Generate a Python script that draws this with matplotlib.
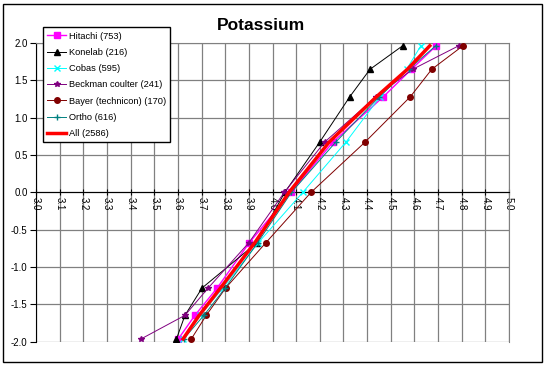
import matplotlib
matplotlib.use("Agg")
import matplotlib.pyplot as plt
import numpy as np

plt.rcParams["font.family"] = ["Liberation Sans", "DejaVu Sans"]

# normal scores (y) at the 2.5 .. 97.5 percentiles
z_scores = [-1.96, -1.645, -1.28, -0.674, 0.0, 0.674, 1.28, 1.645, 1.96]

hitachi = [3.602, 3.672, 3.766, 3.902, 4.078, 4.256, 4.469, 4.587, 4.692]
konelab = [3.594, 3.630, 3.702, 3.934, 4.052, 4.200, 4.327, 4.412, 4.550]
cobas = [3.622, 3.695, 3.790, 3.940, 4.128, 4.311, 4.455, 4.567, 4.627]
beckman = [3.445, 3.630, 3.728, 3.900, 4.050, 4.221, 4.438, 4.592, 4.787]
bayer = [3.657, 3.720, 3.802, 3.972, 4.163, 4.392, 4.583, 4.673, 4.805]
ortho = [3.625, 3.710, 3.800, 3.937, 4.080, 4.268, 4.452, 4.575, 4.690]
all_labs = [3.622, 3.690, 3.780, 3.925, 4.070, 4.240, 4.440, 4.570, 4.665]

x_ticks = np.arange(3.0, 5.01, 0.1)
y_ticks = np.arange(-2.0, 2.01, 0.5)

series = [
    ("Hitachi (753)", hitachi, "#FF00FF", "s", 1.0, 4),
    ("Konelab (216)", konelab, "#000000", "^", 0.7, 4.5),
    ("Cobas (595)", cobas, "#00FFFF", "x", 0.7, 4),
    ("Beckman coulter (241)", beckman, "#800080", "*", 0.7, 4),
    ("Bayer (technicon) (170)", bayer, "#800000", "o", 0.7, 4),
    ("Ortho (616)", ortho, "#008080", "+", 0.7, 4.5),
]

fig = plt.figure(figsize=(5.45, 3.66), dpi=100)
ax = fig.add_axes([0.066, 0.066, 0.868, 0.817])

# x axis drawn through y = 0 (set before tick labels, it resets them)
ax.spines["bottom"].set_position(("data", 0.0))

for label, xs, color, marker, lw, ms in series:
    ax.plot(xs, z_scores, color=color, marker=marker, lw=lw, ms=ms,
            mew=1.0, label=label, zorder=3)
ax.plot(all_labs, z_scores, color="#FF0000", lw=2.5, label="All (2586)", zorder=4)

ax.set_xlim(3.0, 5.0)
ax.set_ylim(-2.0, 2.0)
ax.set_xticks(x_ticks)
ax.set_yticks(y_ticks)
ax.set_xticklabels([f"{v:.1f}" for v in x_ticks], rotation=-90, fontsize=7)
ax.set_yticklabels([f"{v:.1f}" for v in y_ticks], fontsize=7)
ax.grid(True, color="#808080", lw=0.9)
ax.set_axisbelow(True)

ax.spines["left"].set_color("black")
ax.spines["bottom"].set_color("black")
for side in ("top", "right"):
    ax.spines[side].set_color("#808080")
ax.tick_params(axis="x", direction="inout", length=5, pad=1)
ax.tick_params(axis="y", direction="out", length=4, pad=2)

fig.text(0.478, 0.93, "Potassium", ha="center", va="center",
         fontsize=12.5, fontweight="bold")

leg = ax.legend(loc="upper left", bbox_to_anchor=(0.079, 0.925),
                bbox_transform=fig.transFigure, fontsize=6.7, frameon=True,
                fancybox=False, edgecolor="black", framealpha=1,
                handlelength=2.0, handletextpad=0.3, labelspacing=0.78,
                borderpad=0.45, borderaxespad=0)
leg.get_frame().set_linewidth(1.0)

fig.patches.append(plt.Rectangle((0.006, 0.011), 0.988, 0.978,
                                 transform=fig.transFigure, fill=False,
                                 edgecolor="black", lw=1.0))

fig.savefig("out.png", dpi=100)
